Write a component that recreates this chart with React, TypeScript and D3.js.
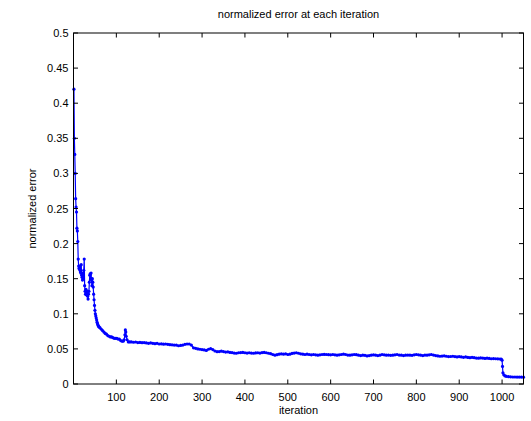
import React from "react";
import * as d3 from "d3";

const iterations: number[] = [
  1,2,3,4,5,6,7,8,9,10,11,12,13,14,15,16,17,18,19,20,21,22,23,24,25,26,27,28,29,30,
  31,32,33,34,35,36,37,38,39,40,41,42,43,44,45,46,47,48,49,50,51,52,53,54,55,56,57,58,59,60,
  62,65,68,71,74,77,80,83,86,89,92,95,98,101,104,107,110,113,116,118,120,121,122,123,125,128,131,
  135,140,145,150,155,160,165,170,175,180,185,190,195,200,205,210,215,220,225,230,235,240,245,250,
  255,260,265,270,275,280,285,290,295,300,305,310,315,320,325,330,335,340,345,350,355,360,365,370,
  375,380,385,390,395,400,405,410,415,420,425,430,435,440,445,450,455,460,465,470,475,480,485,490,
  495,500,505,510,515,520,525,530,535,540,545,550,555,560,565,570,575,580,585,590,595,600,605,610,
  615,620,625,630,635,640,645,650,655,660,665,670,675,680,685,690,695,700,705,710,715,720,725,730,
  735,740,745,750,755,760,765,770,775,780,785,790,795,800,805,810,815,820,825,830,835,840,845,850,
  855,860,865,870,875,880,885,890,895,900,905,910,915,920,925,930,935,940,945,950,955,960,965,970,
  975,980,985,990,995,998,1000,1001,1002,1004,1007,1010,1015,1020,1025,1030,1035,1040,1045,1050,
];

const errors: number[] = [
  0.42,0.35,0.327,0.3,0.264,0.252,0.245,0.222,0.218,0.203,0.178,0.168,0.165,0.163,0.168,0.16,0.158,0.17,0.155,0.152,
  0.148,0.158,0.15,0.162,0.178,0.14,0.132,0.128,0.135,0.127,0.127,0.132,0.125,0.121,0.128,0.132,0.145,0.155,0.157,0.15,
  0.158,0.148,0.14,0.15,0.145,0.138,0.128,0.12,0.112,0.105,0.1,0.097,0.094,0.091,0.088,0.086,0.084,0.083,0.082,0.081,
  0.08,0.078,0.076,0.074,0.072,0.071,0.069,0.068,0.067,0.067,0.066,0.065,0.065,0.065,0.064,0.064,0.062,0.061,0.061,0.063,0.07,0.077,0.074,0.068,0.063,0.06,0.06,
  0.06,0.0595,0.0598,0.059,0.0592,0.0588,0.059,0.0585,0.058,0.0585,0.058,0.0575,0.058,0.057,0.0572,0.0568,0.057,0.0565,0.056,0.0558,0.0555,0.0555,0.0545,0.055,
  0.0555,0.0565,0.057,0.057,0.0555,0.0515,0.0508,0.05,0.0495,0.049,0.0485,0.0478,0.0495,0.0505,0.049,0.047,0.046,0.0462,0.0468,0.0462,0.0455,0.0458,0.045,0.0448,
  0.044,0.0438,0.0445,0.0448,0.045,0.0445,0.044,0.0445,0.044,0.0438,0.0442,0.0445,0.044,0.0448,0.045,0.0445,0.0438,0.0432,0.042,0.041,0.0418,0.0425,0.043,0.0425,
  0.043,0.042,0.0425,0.0435,0.044,0.0445,0.0438,0.043,0.0425,0.042,0.0425,0.042,0.0415,0.042,0.0415,0.041,0.0415,0.042,0.0422,0.042,0.0418,0.0415,0.042,0.0415,
  0.041,0.0415,0.042,0.0425,0.042,0.0412,0.041,0.0415,0.042,0.0418,0.041,0.0405,0.041,0.0408,0.04,0.0405,0.041,0.0415,0.041,0.0405,0.041,0.042,0.0415,0.041,
  0.0412,0.0408,0.041,0.0415,0.042,0.0412,0.041,0.0405,0.041,0.0412,0.041,0.0408,0.0415,0.042,0.0415,0.041,0.0405,0.0412,0.041,0.0415,0.042,0.0412,0.0405,0.04,
  0.0395,0.0398,0.0402,0.0395,0.039,0.0392,0.0395,0.039,0.0385,0.039,0.0385,0.038,0.0385,0.0378,0.0375,0.038,0.0375,0.037,0.0368,0.0372,0.037,0.0365,0.0368,0.0365,
  0.036,0.0362,0.036,0.0358,0.0356,0.0355,0.034,0.025,0.016,0.013,0.0115,0.011,0.0105,0.0102,0.01,0.01,0.0098,0.0098,0.0098,0.0097,
];

const xTicks: number[] = [100, 200, 300, 400, 500, 600, 700, 800, 900, 1000];
const yTicks: number[] = [0, 0.05, 0.1, 0.15, 0.2, 0.25, 0.3, 0.35, 0.4, 0.45, 0.5];
const yTickLabels: string[] = ["0", "0.05", "0.1", "0.15", "0.2", "0.25", "0.3", "0.35", "0.4", "0.45", "0.5"];

const titleText = "normalized error at each iteration";
const xLabelText = "iteration";
const yLabelText = "normalized error";

const W = 531;
const H = 421;
const L = 73.5;
const R = 523.5;
const T = 33;
const B = 384;
const FONT = "'Liberation Sans', Arial, Helvetica, sans-serif";

export default function App() {
  const x = d3.scaleLinear().domain([0, 1050]).range([L, R]);
  const y = d3.scaleLinear().domain([0, 0.5]).range([B, T]);
  const pts: [number, number][] = iterations.map((it, i) => [it, errors[i]]);
  const line = d3
    .line<[number, number]>()
    .x((d) => x(d[0]))
    .y((d) => y(d[1]));
  const tl = 4.5;
  return (
    <svg
      width={W}
      height={H}
      style={{ position: "absolute", left: 0, top: 0, background: "#fff" }}
      fontFamily={FONT}
    >
      <rect x={0} y={0} width={W} height={H} fill="#fff" />
      <path d={line(pts) || ""} fill="none" stroke="#0000ff" strokeWidth={1.2} />
      {pts.map((d, i) => (
        <circle key={i} cx={x(d[0])} cy={y(d[1])} r={1.6} fill="#0000ff" />
      ))}
      <rect x={L} y={T} width={R - L} height={B - T} fill="none" stroke="#000" strokeWidth={1} />
      {xTicks.map((t) => (
        <g key={"x" + t}>
          <line x1={x(t)} x2={x(t)} y1={B} y2={B - tl} stroke="#000" />
          <line x1={x(t)} x2={x(t)} y1={T} y2={T + tl} stroke="#000" />
          <text x={x(t)} y={B + 17} fontSize={11} textAnchor="middle" fill="#000">
            {t}
          </text>
        </g>
      ))}
      {yTicks.map((t, i) => (
        <g key={"y" + t}>
          <line x1={L} x2={L + tl} y1={y(t)} y2={y(t)} stroke="#000" />
          <line x1={R} x2={R - tl} y1={y(t)} y2={y(t)} stroke="#000" />
          <text x={L - 5} y={y(t) + 4} fontSize={11} textAnchor="end" fill="#000">
            {yTickLabels[i]}
          </text>
        </g>
      ))}
      <text x={(L + R) / 2} y={18} fontSize={11} textAnchor="middle" fill="#000">
        {titleText}
      </text>
      <text x={(L + R) / 2} y={414} fontSize={11} textAnchor="middle" fill="#000">
        {xLabelText}
      </text>
      <text
        transform={`translate(36,${(T + B) / 2}) rotate(-90)`}
        fontSize={11}
        textAnchor="middle"
        fill="#000"
      >
        {yLabelText}
      </text>
    </svg>
  );
}
